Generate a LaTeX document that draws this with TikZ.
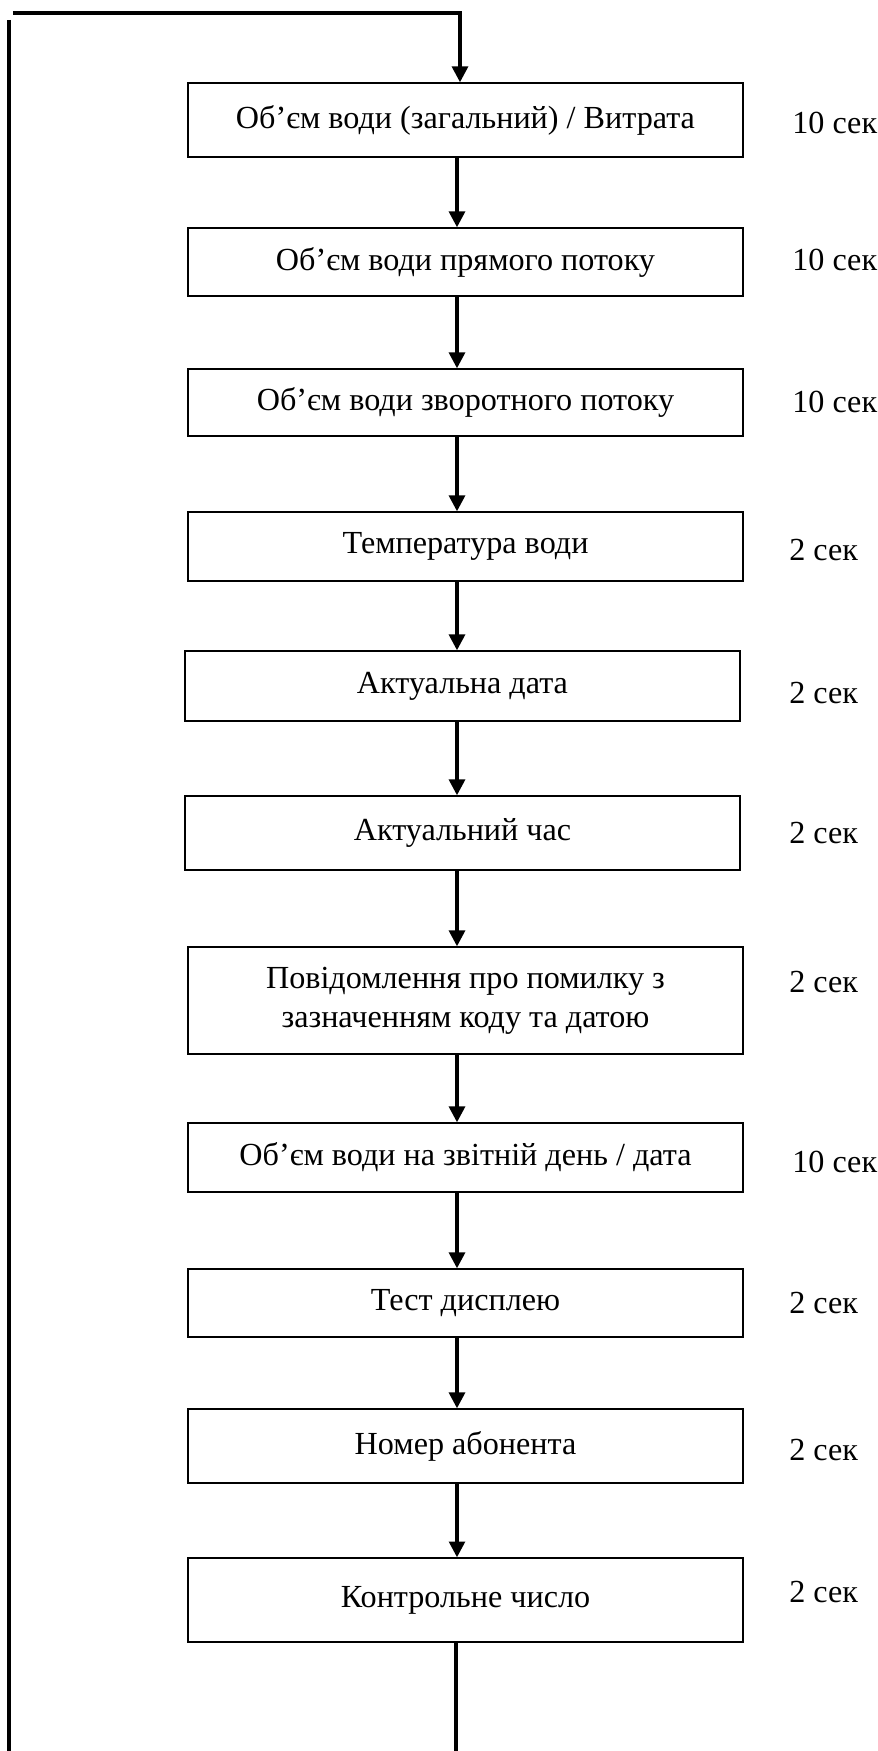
\documentclass[tikz,border=0pt]{standalone}
\usepackage{fontspec}
\setmainfont{Liberation Serif}
\usetikzlibrary{arrows.meta}

\begin{document}
\begin{tikzpicture}[node distance=2.9cm, auto,
    box/.style={draw, rectangle, line width=0.8pt, align=center, minimum width=11.1cm, font=\fontsize{18.3}{22}\selectfont},
    lbl/.style={anchor=west, inner sep=0pt, font=\fontsize{18.3}{22}\selectfont},
    flow/.style={line width=1.9pt, -{Triangle[length=9pt,width=9pt]}},
    loopline/.style={line width=1.9pt}]
    \useasboundingbox (0,0) rectangle (17.56,-35.02);

    \node (b1) [box, minimum height=1.48cm] at (9.31,-2.40) {Об’єм води (загальний) / Витрата};
    \node (b2) [box, below of=b1, node distance=2.84cm, minimum height=1.36cm] {Об’єм води прямого потоку};
    \node (b3) [box, below of=b2, node distance=2.81cm, minimum height=1.34cm] {Об’єм води зворотного потоку};
    \node (b4) [box, below of=b3, node distance=2.88cm, minimum height=1.38cm] {Температура води};
    \node (b5) [box, below of=b4, node distance=2.79cm, minimum height=1.40cm, xshift=-0.06cm] {Актуальна дата};
    \node (b6) [box, below of=b5, node distance=2.94cm, minimum height=1.48cm] {Актуальний час};
    \node (b7) [box, below of=b6, node distance=3.35cm, minimum height=2.14cm, xshift=0.06cm] {Повідомлення про помилку з\\ зазначенням коду та датою};
    \node (b8) [box, below of=b7, node distance=3.14cm, minimum height=1.38cm] {Об’єм води на звітній день / дата};
    \node (b9) [box, below of=b8, node distance=2.91cm, minimum height=1.36cm] {Тест дисплею};
    \node (b10) [box, below of=b9, node distance=2.86cm, minimum height=1.48cm] {Номер абонента};
    \node (b11) [box, below of=b10, node distance=3.08cm, minimum height=1.68cm] {Контрольне число};

    % time on each screen
    \node (t1) [lbl] at (15.84,-2.46) {10 сек};
    \node (t2) [lbl] at (15.84,-5.20) {10 сек};
    \node (t3) [lbl] at (15.84,-8.04) {10 сек};
    \node (t4) [lbl] at (15.78,-11.00) {2 сек};
    \node (t5) [lbl] at (15.78,-13.86) {2 сек};
    \node (t6) [lbl] at (15.78,-16.66) {2 сек};
    \node (t7) [lbl] at (15.78,-19.64) {2 сек};
    \node (t8) [lbl] at (15.84,-23.24) {10 сек};
    \node (t9) [lbl] at (15.78,-26.06) {2 сек};
    \node (t10) [lbl] at (15.78,-29.00) {2 сек};
    \node (t11) [lbl] at (15.78,-31.84) {2 сек};

    \coordinate (top) at (0.26,-0.26);
    \coordinate (col) at (9.14,0);
    \coordinate (leftup) at (0.18,-0.40);
    \coordinate (leftdown) at (0.18,-35.02);
    \coordinate (out) at (9.12,-35.02);

    \draw[flow] (top) -| ([xshift=-0.11cm]b1.north);
    \draw[flow] (b1.south -| col) -- (b2.north -| col);
    \draw[flow] (b2.south -| col) -- (b3.north -| col);
    \draw[flow] (b3.south -| col) -- (b4.north -| col);
    \draw[flow] (b4.south -| col) -- (b5.north -| col);
    \draw[flow] (b5.south -| col) -- (b6.north -| col);
    \draw[flow] (b6.south -| col) -- (b7.north -| col);
    \draw[flow] (b7.south -| col) -- (b8.north -| col);
    \draw[flow] (b8.south -| col) -- (b9.north -| col);
    \draw[flow] (b9.south -| col) -- (b10.north -| col);
    \draw[flow] (b10.south -| col) -- (b11.north -| col);
    \draw[loopline] (b11.south -| out) -- (out);
    \draw[loopline] (leftup) -- (leftdown);
\end{tikzpicture}
\end{document}
